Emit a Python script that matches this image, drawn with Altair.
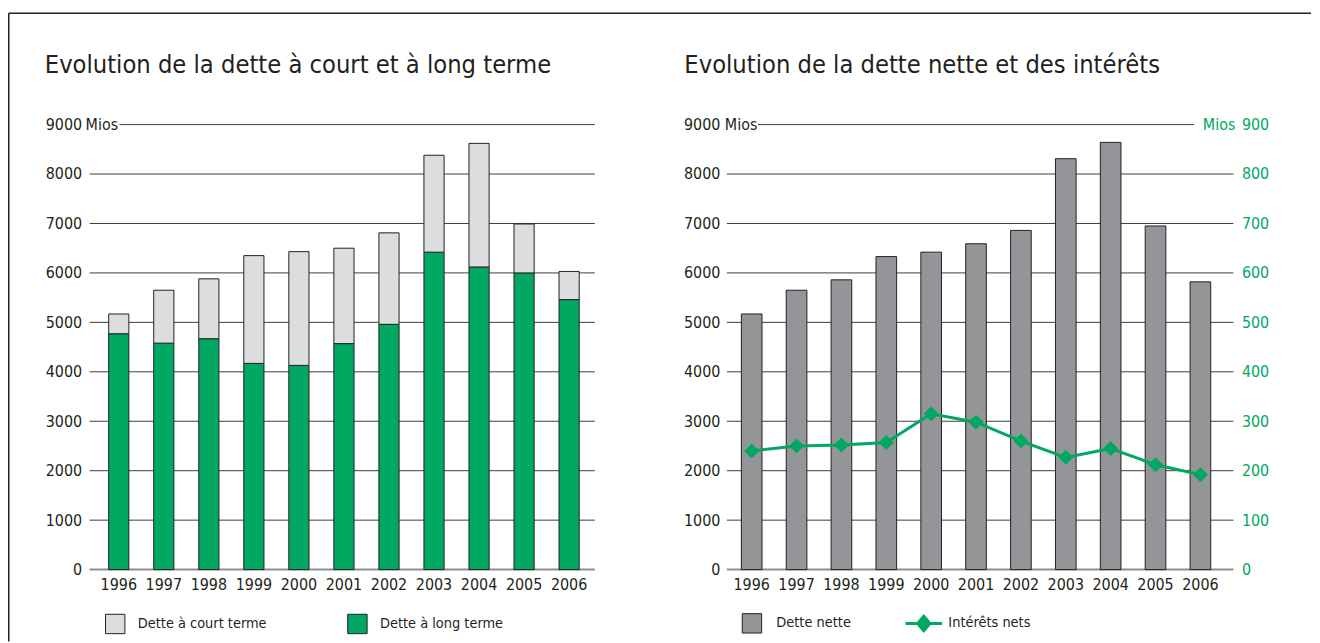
import altair as alt
import pandas as pd

# ---------------- data ----------------
years = ["1996", "1997", "1998", "1999", "2000", "2001", "2002", "2003", "2004", "2005", "2006"]
dette_long = [4770, 4580, 4670, 4170, 4130, 4570, 4960, 6420, 6120, 6000, 5460]
dette_court = [400, 1070, 1210, 2180, 2300, 1930, 1850, 1960, 2500, 990, 570]
dette_nette = [5170, 5650, 5860, 6330, 6420, 6590, 6860, 8310, 8640, 6950, 5820]
interets_nets = [240, 250, 252, 257, 315, 298, 260, 227, 245, 212, 192]
y_ticks = [0, 1000, 2000, 3000, 4000, 5000, 6000, 7000, 8000, 9000]
y2_ticks = [0, 100, 200, 300, 400, 500, 600, 700, 800, 900]
series_left = ["Dette à court terme", "Dette à long terme"]
serie_bar_right = "Dette nette"
serie_line_right = "Intérêts nets"
title_left = "Evolution de la dette à court et à long terme"
title_right = "Evolution de la dette nette et des intérêts"
unit = "Mios"

# ---------------- style ----------------
FONT = "'DejaVu Sans Condensed', 'Liberation Sans', sans-serif"
DARK = "#231f20"
GREEN = "#00a862"
LIGHT = "#dcdddf"
GREY = "#939598"
GRID = "#3d3d3d"
ZERO = "#8d8d8d"
TICK_FS = 16
LEG_FS = 14.5
TITLE_FS = 25.4

W1, W2, H = 508, 509.3, 447.4
yscale = alt.Scale(domain=[0, 9000], nice=False)
y2scale = alt.Scale(domain=[0, 900], nice=False)
xs1 = alt.Scale(paddingInner=0.552, paddingOuter=0.386, align=0.55)
xs2 = alt.Scale(paddingInner=0.54, paddingOuter=0.415, align=0.39)
DX2 = 640.7  # offset of the right plot from the left plot (legends live at top level)

grid_df = pd.DataFrame({"v": y_ticks})


def x_axis():
    return alt.Axis(title=None, labelAngle=0, ticks=False, domain=False, labelPadding=7,
                    labelFontSize=TICK_FS, labelFont=FONT, labelColor=DARK)


def y_axis(pad):
    return alt.Axis(title=None, values=y_ticks, format="d", ticks=False, domain=False, grid=False,
                    labelPadding=pad, labelFontSize=TICK_FS, labelFont=FONT, labelColor=DARK)


def grids(width, top_start, top_end, pad):
    mid = alt.Chart(grid_df).transform_filter("datum.v > 0 && datum.v < 9000").mark_rule(
        color=GRID, strokeWidth=1).encode(
        y=alt.Y("v:Q", scale=yscale, axis=y_axis(pad)), x=alt.value(0), x2=alt.value(width))
    top = alt.Chart(grid_df).transform_filter("datum.v == 9000").mark_rule(
        color=GRID, strokeWidth=1).encode(
        y=alt.Y("v:Q", scale=yscale, axis=y_axis(pad)), x=alt.value(top_start), x2=alt.value(top_end))
    zero = alt.Chart(grid_df).transform_filter("datum.v == 0").mark_rule(
        color=ZERO, strokeWidth=2).encode(
        y=alt.Y("v:Q", scale=yscale, axis=y_axis(pad)), x=alt.value(0), x2=alt.value(width))
    return [mid, top, zero]


def text_layer(txt, x, y, size, color=DARK, align="left", baseline="middle"):
    return alt.Chart(pd.DataFrame({"t": [txt]})).mark_text(
        align=align, baseline=baseline, fontSize=size, font=FONT, color=color).encode(
        text="t:N", x=alt.value(x), y=alt.value(y))


# ---------------- left panel ----------------
left_df = pd.DataFrame({
    "annee": years * 2,
    "serie": [series_left[1]] * len(years) + [series_left[0]] * len(years),
    "valeur": dette_long + dette_court,
})

bars1 = alt.Chart(left_df).transform_calculate(
    ordre=f"datum.serie == '{series_left[1]}' ? 0 : 1"
).mark_bar(stroke=DARK, strokeWidth=1).encode(
    x=alt.X("annee:N", scale=xs1, axis=x_axis()),
    y=alt.Y("valeur:Q", stack="zero", scale=yscale, axis=y_axis(8)),
    color=alt.Color("serie:N", scale=alt.Scale(domain=series_left, range=[LIGHT, GREEN]),
                    legend=alt.Legend(title=None, orient="none", legendX=15.3, legendY=491.2,
                                      direction="horizontal", symbolType="square", symbolSize=380,
                                      symbolStrokeColor=DARK, symbolStrokeWidth=1,
                                      labelFontSize=LEG_FS, labelFont=FONT, labelColor=DARK,
                                      labelOffset=12.2, columnPadding=78.5, padding=0,
                                      labelLimit=300)),
    order=alt.Order("ordre:Q", sort="ascending"),
)

frame_left = alt.Chart(pd.DataFrame({"t": [0]})).mark_rule(color=DARK, strokeWidth=1.5).encode(
    x=alt.value(-81.25), y=alt.value(-112), y2=alt.value(519.7))
frame_top = alt.Chart(pd.DataFrame({"t": [0]})).mark_rule(color=DARK, strokeWidth=1.5).encode(
    x=alt.value(-81.25), x2=alt.value(1228), y=alt.value(-112))

left = alt.layer(
    *grids(W1, 30, W1, 8), bars1,
    text_layer(title_left, -45, -51.6, TITLE_FS, baseline="alphabetic"),
    text_layer(unit, -4, 0, TICK_FS),
    frame_left, frame_top,
).properties(width=W1, height=H)

# ---------------- right panel ----------------
right_df = pd.DataFrame({"annee": years, "dette": dette_nette, "interets": interets_nets})

bars2 = alt.Chart(right_df).transform_calculate(
    serie=f"'{serie_bar_right}'"
).mark_bar(stroke=DARK, strokeWidth=1).encode(
    x=alt.X("annee:N", scale=xs2, axis=x_axis()),
    y=alt.Y("dette:Q", scale=yscale, axis=y_axis(7)),
    fill=alt.Fill("serie:N", scale=alt.Scale(range=[GREY]),
                  legend=alt.Legend(title=None, orient="none", legendX=DX2 + 14.75, legendY=490.95,
                                    symbolType="square", symbolSize=380,
                                    symbolStrokeColor=DARK, symbolStrokeWidth=1,
                                    labelFontSize=LEG_FS, labelFont=FONT, labelColor=DARK,
                                    labelOffset=14, padding=0)),
)

line = alt.Chart(right_df).transform_calculate(
    serie2=f"'{serie_line_right}'"
).mark_line(
    strokeWidth=3,
    point=alt.OverlayMarkDef(shape="diamond", filled=True, size=150, color=GREEN),
).encode(
    x=alt.X("annee:N", scale=xs2, axis=x_axis()),
    y=alt.Y("interets:Q", scale=y2scale,
            axis=alt.Axis(orient="right", title=None, values=y2_ticks, format="d", ticks=False,
                          domain=False, grid=False, labelPadding=8, labelFontSize=TICK_FS,
                          labelFont=FONT, labelColor=GREEN)),
    stroke=alt.Stroke("serie2:N", scale=alt.Scale(range=[GREEN]),
                      legend=alt.Legend(title=None, orient="none", legendX=DX2 + 178, legendY=481.6,
                                        symbolType="M-1,0H1M0,-0.4L0.34,0L0,0.4L-0.34,0Z",
                                        symbolSize=1340, symbolStrokeWidth=3,
                                        symbolFillColor=GREEN,
                                        labelFontSize=LEG_FS, labelFont=FONT, labelColor=DARK,
                                        labelOffset=4.7, padding=0)),
)

right_base = alt.layer(
    *grids(W2, 31.3, 469.7, 7), bars2,
    text_layer(title_right, -42.7, -51.6, TITLE_FS, baseline="alphabetic"),
    text_layer(unit, -2, 0, TICK_FS),
    text_layer(unit, 511.3, 0, TICK_FS, color=GREEN, align="right"),
)

right = alt.layer(right_base, line).resolve_scale(y="independent").properties(width=W2, height=H)

chart = alt.hconcat(left, right, spacing=132.7, bounds="flush").properties(
    padding={"left": 0, "top": 2.5, "right": 0, "bottom": 0}
).configure(background="white", font=FONT).configure_view(stroke=None)

chart.save("out.html", embed_options={"renderer": "svg", "actions": False})
